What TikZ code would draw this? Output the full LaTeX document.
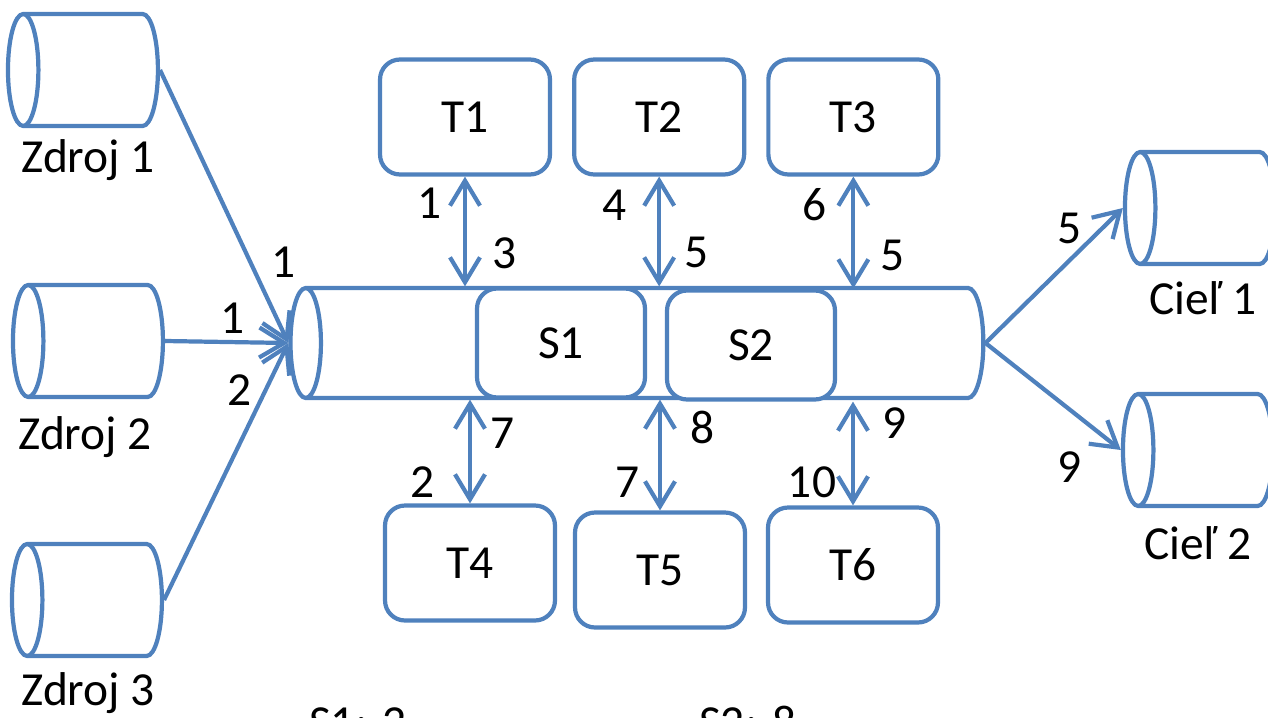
\documentclass[tikz,border=0pt]{standalone}
\usepackage{fontspec}
\setmainfont{Carlito}
\usetikzlibrary{positioning,arrows.meta,shapes.geometric}
\definecolor{flowblue}{HTML}{4F81BD}

\begin{document}
\begin{tikzpicture}[x=0.02cm, y=-0.02cm, node distance=4mm,
  every node/.style={font=\fontsize{27}{32}\selectfont},
  box/.style={draw=flowblue, line width=2.4pt, rounded corners=4mm, fill=white, minimum width=3.4cm, minimum height=2.3cm},
  tank/.style={cylinder, shape border rotate=180, aspect=2.6, draw=flowblue, line width=2.4pt, fill=white, minimum height=3cm, minimum width=2.24cm},
  flow/.style={draw=flowblue, line width=2.4pt, -{Straight Barb[length=5mm,width=6mm]}},
  link/.style={draw=flowblue, line width=2.4pt, {Straight Barb[length=5mm,width=6mm]}-{Straight Barb[length=5mm,width=6mm]}}]
\useasboundingbox (0,0) rectangle (1268,717);
\clip (0,0) rectangle (1268,717);
% sources and targets
\node[tank] (z1) at (95,70) {};
\node[tank] (z2) at (100,341) {};
\node[tank] (z3) at (99,600) {};
\node[tank] (c1) at (1212,208) {};
\node[tank] (c2) at (1210,450) {};
\node (z1lab) at (88,160) {Zdroj 1};
\node (z2lab) at (85,437) {Zdroj 2};
\node (z3lab) at (88,693) {Zdroj 3};
\node (c1lab) at (1203,298) {Cieľ 1};
\node (c2lab) at (1198,543) {Cieľ 2};
% pipe with stations
\node[tank, minimum height=13.86cm, minimum width=2.2cm] (pipe) at (649,343) {};
\node[box, minimum width=3.36cm, minimum height=2.18cm] (S1) at (561,343) {S1};
\node[box, minimum width=3.36cm, minimum height=2.18cm] (S2) at (751,345) {S2};
% tasks
\node[box] (T1) at (465,117) {T1};
\node[box, right=of T1] (T2) {T2};
\node[box, right=of T2] (T3) {T3};
\node[box] (T4) at (470,563) {T4};
\node[box] (T5) at (660,570) {T5};
\node[box] (T6) at (853,565) {T6};
\draw[link] (T1.south) -- (T1.south |- S1.north);
\draw[link] (T2.south) -- (T2.south |- S1.north);
\draw[link] (T3.south) -- (T3.south |- S2.north);
\draw[link] (T4.north |- S1.south) -- (T4.north);
\draw[link] (T5.north |- S1.south) -- (T5.north);
\draw[link] (T6.north |- S2.south) -- (T6.north);
\draw[flow] (z1.east) -- (pipe.west);
\draw[flow] (z2.east) -- (pipe.west);
\draw[flow] (z3.east) -- (pipe.west);
\draw[flow] (pipe.east) -- (c1.west);
\draw[flow] (pipe.east) -- (c2.west);
% counts
\node (n1) at (284,262) {1};
\node (n2) at (233,318) {1};
\node (n3) at (240,390) {2};
\node (n4) at (430,203) {1};
\node (n5) at (505,253) {3};
\node (n6) at (615,205) {4};
\node (n7) at (697,252) {5};
\node (n8) at (815,205) {6};
\node (n9) at (893,255) {5};
\node (n10) at (503,433) {7};
\node (n11) at (423,482) {2};
\node (n12) at (703,427) {8};
\node (n13) at (628,482) {7};
\node (n14) at (895,423) {9};
\node (n15) at (812,482) {10};
\node (n16) at (1070,228) {5};
\node (n17) at (1070,467) {9};
\node[anchor=base west] (s1sum) at (303,738) {S1: 2};
\node[anchor=base west] (s2sum) at (693,738) {S2: 8};
\end{tikzpicture}
\end{document}
